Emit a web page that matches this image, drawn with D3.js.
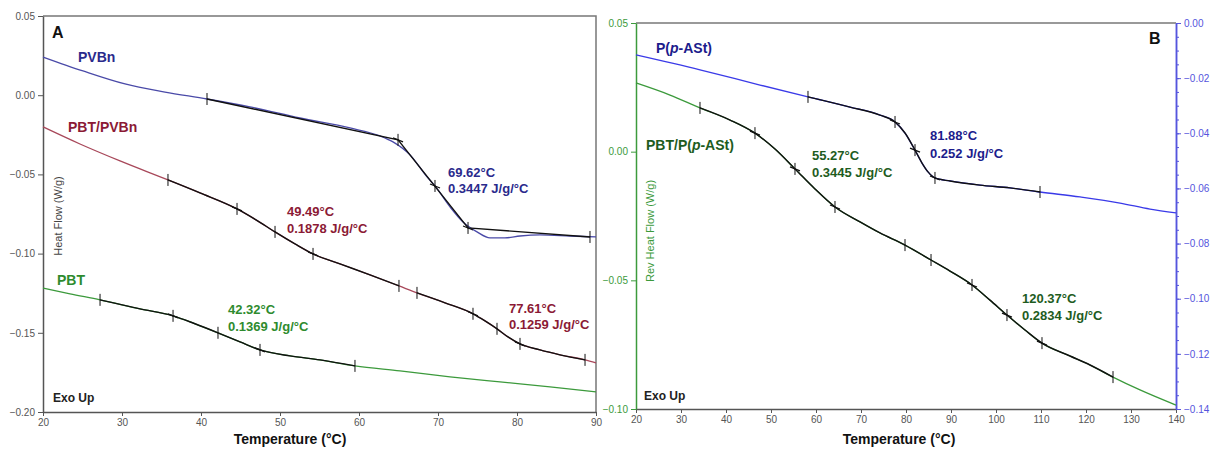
<!DOCTYPE html>
<html>
<head>
<meta charset="utf-8">
<script src="https://cdn.jsdelivr.net/npm/d3@7"></script>
<style>
body{margin:0;background:#fff}
svg{font-family:"Liberation Sans",Arial,sans-serif}
</style>
</head>
<body>
<svg width="1211" height="449"></svg>
<script>
// ---- panel A data (temperature in °C, heat flow in W/g) ----
var pvbnT = [20,25.06,30.38,35.44,40.76,46.2,52.53,58.86,62.66,64.3,66.46,68.61,69.62,71.52,73.16,74.94,76.58,78.48,80.38,82.91,86.71,90];
var pvbnV = [0.0241,0.0153,0.0071,0.002,-0.0024,-0.0074,-0.0144,-0.0207,-0.0257,-0.0295,-0.0377,-0.0516,-0.0573,-0.0705,-0.08,-0.0863,-0.0901,-0.0901,-0.0889,-0.0882,-0.0889,-0.0895];
var pvbnTanT = [40.76,64.94,73.8,89.24];
var pvbnTanV = [-0.0024,-0.0282,-0.0838,-0.0895];

var blendAT = [20,24.68,29.75,35.82,39.87,44.56,46.96,49.37,51.9,54.18,57.59,61.39,65.06,67.34,70.89,74.43,75.95,77.47,78.86,80.38,82.91,85.44,88.61,90];
var blendAV = [-0.02,-0.0308,-0.0415,-0.0535,-0.0617,-0.0718,-0.0787,-0.0863,-0.0939,-0.1002,-0.1065,-0.1134,-0.1204,-0.1248,-0.1311,-0.138,-0.1425,-0.1475,-0.1526,-0.157,-0.1608,-0.1639,-0.1671,-0.169];

var pbtT = [20,23.42,27.22,32.28,36.46,39.24,42.15,44.94,47.47,51.27,55.06,59.49,65.19,71.52,77.85,84.18,90];
var pbtV = [-0.1217,-0.1254,-0.1292,-0.1349,-0.1393,-0.1443,-0.15,-0.1557,-0.1608,-0.1646,-0.1671,-0.1709,-0.174,-0.1778,-0.181,-0.1841,-0.1873];

// ---- panel B data ----
var pastT = [20,34.22,47.56,58.22,67.56,74.22,77.56,79.78,82,83.56,84.89,86.44,89.78,96.44,103.11,109.78,118.67,127.56,134.22,140];
var pastV = [-0.0116,-0.017,-0.0225,-0.0268,-0.0305,-0.0334,-0.0359,-0.0399,-0.0461,-0.0508,-0.054,-0.0562,-0.0573,-0.0588,-0.0598,-0.0613,-0.0631,-0.0653,-0.0675,-0.0689];

var blendBT = [20,27.56,34.22,40.89,46.44,50.89,55.33,59.78,64.22,69.78,74.22,79.78,85.56,89.78,94.67,98.67,102.44,106.44,110.22,116.44,120.89,126,132,140];
var blendBV = [0.0267,0.022,0.017,0.0123,0.0072,0.001,-0.0067,-0.0145,-0.0215,-0.0273,-0.0316,-0.0363,-0.0421,-0.0464,-0.0518,-0.0577,-0.0635,-0.0693,-0.0744,-0.0794,-0.0829,-0.0876,-0.0926,-0.0985];

var ticksA_x = [20,30,40,50,60,70,80,90];
var ticksA_y = [0.05,0,-0.05,-0.1,-0.15,-0.2];
var ticksB_x = [20,30,40,50,60,70,80,90,100,110,120,130,140];
var ticksB_yl = [0.05,0,-0.05,-0.1];
var ticksB_yr = [0,-0.02,-0.04,-0.06,-0.08,-0.1,-0.12,-0.14];

var svg = d3.select("svg");

var xA = d3.scaleLinear().domain([20,90]).range([43,596]);
var yA = d3.scaleLinear().domain([-0.2,0.05]).range([412,16]);
var xB = d3.scaleLinear().domain([20,140]).range([636,1176]);
var yBL = d3.scaleLinear().domain([-0.1,0.05]).range([409,23]);
var yBR = d3.scaleLinear().domain([-0.14,0]).range([409,23]);

function zip(T, V){ return T.map(function(t,i){ return [t, V[i]]; }); }

function valueAt(T, V, t){
	for(var i = 1; i < T.length; i++){
		if(t <= T[i]){
			var f = (t - T[i-1])/(T[i] - T[i-1]);
			return V[i-1] + f*(V[i] - V[i-1]);
		}
	}
	return V[V.length-1];
}

function drawCurve(x, y, T, V, color, width, straight){
	var line = d3.line().x(function(d){return x(d[0])}).y(function(d){return y(d[1])})
		.curve(straight ? d3.curveLinear : d3.curveMonotoneX);
	svg.append("path")
		.attr("d", line(zip(T,V)))
		.attr("fill","none")
		.attr("stroke",color)
		.attr("stroke-width",width);
}

function drawBlack(x, y, T, V, from, to){
	var pts = zip(T,V).filter(function(d){ return d[0] >= from - 0.001 && d[0] <= to + 0.001; });
	var line = d3.line().x(function(d){return x(d[0])}).y(function(d){return y(d[1])}).curve(d3.curveMonotoneX);
	svg.append("path")
		.attr("d", line(pts))
		.attr("fill","none")
		.attr("stroke","#111")
		.attr("stroke-width",1.4);
}

function drawMarks(x, y, T, V, list, cross){
	list.forEach(function(t){
		var px = x(t), py = y(valueAt(T,V,t));
		svg.append("line").attr("x1",px).attr("x2",px).attr("y1",py-6).attr("y2",py+6)
			.attr("stroke","#111").attr("stroke-width",1);
		if(cross){
			svg.append("line").attr("x1",px-5).attr("x2",px+5).attr("y1",py-2).attr("y2",py+2)
				.attr("stroke","#111").attr("stroke-width",1.2);
		}
	});
}

function label(x, y, txt, color, size, weight, anchor){
	return svg.append("text").attr("x",x).attr("y",y).text(txt)
		.attr("fill",color).style("font-size",size+"px")
		.style("font-weight",weight || "bold")
		.attr("text-anchor",anchor || "start");
}

function styleAxis(g, color, textColor){
	g.selectAll("path").attr("stroke",color).attr("stroke-width",1.5);
	g.selectAll("line").attr("stroke",color);
	g.selectAll("text").attr("fill",textColor).style("font-size","10px").style("font-family","Liberation Sans, Arial, sans-serif");
}

// ---------------- panel A ----------------
svg.append("path").attr("d","M43,16H596V412").attr("fill","none").attr("stroke","#777").attr("stroke-width",1.5);

var gAx = svg.append("g").attr("transform","translate(0,412)")
	.call(d3.axisBottom(xA).tickValues(ticksA_x).tickSize(4).tickSizeOuter(0));
styleAxis(gAx,"#555","#555");
var gAy = svg.append("g").attr("transform","translate(43,0)")
	.call(d3.axisLeft(yA).tickValues(ticksA_y).tickFormat(d3.format(".2f")).tickSize(5).tickSizeOuter(0));
styleAxis(gAy,"#555","#555");

drawCurve(xA, yA, pvbnT, pvbnV, "#4a4aa8", 1.3);
drawCurve(xA, yA, blendAT, blendAV, "#a8485a", 1.3);
drawCurve(xA, yA, pbtT, pbtV, "#3c9a3c", 1.3);

// PVBn tangent construction
drawCurve(xA, yA, pvbnTanT, pvbnTanV, "#111", 1.4, true);
drawMarks(xA, yA, pvbnTanT, pvbnTanV, [40.76,89.24], false);
drawMarks(xA, yA, pvbnTanT, pvbnTanV, [64.94,73.8], true);
drawMarks(xA, yA, pvbnT, pvbnV, [69.62], true);

drawBlack(xA, yA, blendAT, blendAV, 35.82, 65.06);
drawBlack(xA, yA, blendAT, blendAV, 67.34, 88.61);
drawMarks(xA, yA, blendAT, blendAV, [35.82,49.37,65.06,67.34,77.47,88.61], false);
drawMarks(xA, yA, blendAT, blendAV, [44.56,54.18,74.43,80.38], true);

drawBlack(xA, yA, pbtT, pbtV, 27.22, 59.49);
drawMarks(xA, yA, pbtT, pbtV, [27.22,42.15,59.49], false);
drawMarks(xA, yA, pbtT, pbtV, [36.46,47.47], true);

label(52,38,"A","#111",16);
label(78,62,"PVBn","#2a2a8c",14);
label(68,132,"PBT/PVBn","#8b1a35",14);
label(57,285,"PBT","#2e8b2e",14);
label(287,216,"49.49°C","#8b1a35",13);
label(287,233,"0.1878 J/g/°C","#8b1a35",13);
label(448,177,"69.62°C","#2a2a8c",13);
label(448,193,"0.3447 J/g/°C","#2a2a8c",13);
label(228,314,"42.32°C","#2e8b2e",13);
label(228,331,"0.1369 J/g/°C","#2e8b2e",13);
label(509,313,"77.61°C","#8b1a35",13);
label(509,329,"0.1259 J/g/°C","#8b1a35",13);
label(53,402,"Exo Up","#222",12);
label(290,444,"Temperature (°C)","#111",14,"bold","middle");
label(0,0,"Heat Flow (W/g)","#444",11,"normal","middle")
	.attr("transform","translate(62,216) rotate(-90)");

// ---------------- panel B ----------------
svg.append("path").attr("d","M636,23H1176").attr("fill","none").attr("stroke","#777").attr("stroke-width",1.5);

var gBx = svg.append("g").attr("transform","translate(0,409)")
	.call(d3.axisBottom(xB).tickValues(ticksB_x).tickSize(4).tickSizeOuter(0));
styleAxis(gBx,"#555","#555");
var gByl = svg.append("g").attr("transform","translate(636,0)")
	.call(d3.axisLeft(yBL).tickValues(ticksB_yl).tickFormat(d3.format(".2f")).tickSize(5).tickSizeOuter(0));
styleAxis(gByl,"#3c9a3c","#3c9a3c");
var gByrMinor = svg.append("g").attr("transform","translate(1176,0)")
	.call(d3.axisRight(yBR).tickValues(d3.range(0,29).map(function(i){return -i*0.005})).tickFormat("").tickSize(3).tickSizeOuter(0));
styleAxis(gByrMinor,"#5555dd","#5555dd");
var gByr = svg.append("g").attr("transform","translate(1176,0)")
	.call(d3.axisRight(yBR).tickValues(ticksB_yr).tickFormat(d3.format(".2f")).tickSize(5).tickSizeOuter(0));
styleAxis(gByr,"#5555dd","#5555dd");

drawCurve(xB, yBR, pastT, pastV, "#3a3ae8", 1.3);
drawCurve(xB, yBL, blendBT, blendBV, "#3c9a3c", 1.3);

drawBlack(xB, yBR, pastT, pastV, 58.22, 109.78);
drawMarks(xB, yBR, pastT, pastV, [58.22,109.78], false);
drawMarks(xB, yBR, pastT, pastV, [77.56,82,86.44], true);

drawBlack(xB, yBL, blendBT, blendBV, 34.22, 126);
drawMarks(xB, yBL, blendBT, blendBV, [34.22,79.78,85.56,126], false);
drawMarks(xB, yBL, blendBT, blendBV, [46.44,55.33,64.22,94.67,102.44,110.22], true);

label(1149,44,"B","#111",16);
var t1 = label(656,53,"P(","#1c1c8c",14);
t1.append("tspan").text("p").style("font-style","italic");
t1.append("tspan").text("-ASt)");
var t2 = label(646,150,"PBT/P(","#1e5c1e",14);
t2.append("tspan").text("p").style("font-style","italic");
t2.append("tspan").text("-ASt)");
label(812,160,"55.27°C","#1e5c1e",13);
label(812,177,"0.3445 J/g/°C","#1e5c1e",13);
label(930,140,"81.88°C","#1c1c8c",13);
label(930,158,"0.252 J/g/°C","#1c1c8c",13);
label(1022,303,"120.37°C","#1e5c1e",13);
label(1022,320,"0.2834 J/g/°C","#1e5c1e",13);
label(644,400,"Exo Up","#222",12);
label(899,444,"Temperature (°C)","#111",14,"bold","middle");
label(0,0,"Rev Heat Flow (W/g)","#3c9a3c",11,"normal","middle")
	.attr("transform","translate(654,231) rotate(-90)");
</script>
</body>
</html>
